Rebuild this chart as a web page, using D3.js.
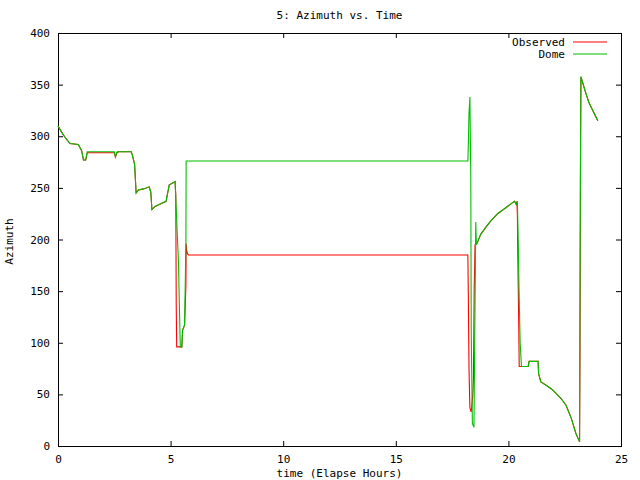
<!DOCTYPE html>
<html>
<head>
<meta charset="utf-8">
<script src="https://cdn.jsdelivr.net/npm/d3@7"></script>
<style>
  body { margin: 0; background: #fff; }
  text { font-family: "DejaVu Sans Mono", monospace; font-size: 11px; fill: #000; }
</style>
</head>
<body>
<div id="chart"></div>
<script>
// data (hours, degrees)
var obsTime = [0, 0.16, 0.31, 0.53, 0.9, 1.05, 1.13, 1.23, 1.3, 2.5, 2.55, 2.62, 2.69, 3.25, 3.3, 3.4, 3.47, 3.57, 3.8, 4.05, 4.12, 4.17, 4.31, 4.61, 4.8, 4.86, 4.94, 5.2, 5.23, 5.25, 5.27, 5.3, 5.5, 5.53, 5.62, 5.68, 5.69, 5.71, 5.75, 5.8, 18.2, 18.22, 18.25, 18.29, 18.35, 18.42, 18.45, 18.48, 18.52, 18.62, 18.77, 19.0, 19.22, 19.52, 19.9, 20.2, 20.27, 20.35, 20.38, 20.4, 20.41, 20.46, 20.48, 20.88, 20.92, 21.32, 21.34, 21.44, 21.66, 21.9, 22.12, 22.34, 22.56, 22.79, 23.0, 23.16, 23.18, 23.2, 23.22, 23.27, 23.42, 23.57, 23.79, 23.97];
var obsAz   = [310, 304, 299, 293, 292, 286, 277, 277, 284, 284, 280, 284, 285, 285, 282, 273, 245, 248, 249, 251, 246, 229, 232, 235, 237, 244, 253, 256, 243, 136, 96, 96, 96, 112, 117, 156, 196, 190, 186, 185, 185, 148, 75, 37, 33, 50, 67, 150, 195, 197, 205, 212, 218, 225, 231, 236, 237, 234, 237, 222, 198, 117, 77, 77, 82, 82, 70, 62, 59, 55.5, 51, 46, 39.5, 27, 12, 4, 91, 268, 357, 354, 343, 333, 323, 315];

var domeTime = [0, 0.16, 0.31, 0.53, 0.9, 1.05, 1.13, 1.23, 1.3, 2.5, 2.55, 2.62, 2.69, 3.25, 3.3, 3.4, 3.47, 3.57, 3.8, 4.05, 4.12, 4.17, 4.31, 4.61, 4.8, 4.86, 4.94, 5.2, 5.27, 5.35, 5.4, 5.43, 5.5, 5.53, 5.62, 5.68, 5.69, 18.2, 18.22, 18.25, 18.29, 18.33, 18.35, 18.4, 18.47, 18.55, 18.58, 18.62, 18.77, 19.0, 19.22, 19.52, 19.9, 20.2, 20.27, 20.35, 20.4, 20.44, 20.47, 20.52, 20.58, 20.88, 20.92, 21.32, 21.34, 21.44, 21.66, 21.9, 22.12, 22.34, 22.56, 22.79, 23.0, 23.16, 23.17, 23.2, 23.22, 23.27, 23.42, 23.57, 23.79, 23.97];
var domeAz   = [310, 304, 299, 293, 292, 286, 277, 277, 285, 285, 280, 285, 285, 285, 282, 273, 245, 248, 249, 251, 246, 229, 232, 235, 237, 244, 253, 256, 219, 178, 125, 96, 96, 112, 117, 196, 276, 276, 291, 322, 338, 262, 109, 22, 18, 217, 195, 197, 205, 212, 218, 225, 231, 236, 237, 234, 237, 194, 154, 101, 77, 77, 82, 82, 70, 62, 59, 55.5, 51, 46, 39.5, 27, 12, 4, 91, 268, 358, 354, 343, 333, 323, 315];

var xTicks = [0, 5, 10, 15, 20, 25];
var yTicks = [0, 50, 100, 150, 200, 250, 300, 350, 400];
var seriesNames = ["Observed", "Dome"];
var seriesColors = ["#ff0000", "#00c000"];

var margin = {top: 33, right: 19, bottom: 34, left: 58};
var width = 640 - margin.left - margin.right, height = 480 - margin.top - margin.bottom;

var svg = d3.select("#chart")
  .append("svg")
  .attr("width", 640)
  .attr("height", 480)
  .append("g")
  .attr("transform", "translate(" + margin.left + "," + margin.top + ")");

var x = d3.scaleLinear().domain([0, 25]).range([0, width]);
var y = d3.scaleLinear().domain([0, 400]).range([height, 0]);

// axes with inward ticks, mirrored on top/right
function styleAxis(g) {
  g.select(".domain").remove();
  g.selectAll("line").attr("stroke", "#000");
  g.selectAll("text").attr("font-family", null).attr("font-size", null);
}
svg.append("g").attr("transform", "translate(0," + height + ")")
  .call(d3.axisBottom(x).tickValues(xTicks).tickSize(-5).tickPadding(9).tickFormat(d3.format("d")))
  .call(styleAxis);
svg.append("g")
  .call(d3.axisTop(x).tickValues(xTicks).tickSize(-5).tickFormat(""))
  .call(styleAxis);
svg.append("g")
  .call(d3.axisLeft(y).tickValues(yTicks).tickSize(-5).tickPadding(8).tickFormat(d3.format("d")))
  .call(styleAxis);
svg.append("g").attr("transform", "translate(" + width + ",0)")
  .call(d3.axisRight(y).tickValues(yTicks).tickSize(-5).tickFormat(""))
  .call(styleAxis);

// frame
svg.append("rect")
  .attr("width", width).attr("height", height)
  .attr("fill", "none").attr("stroke", "#000").attr("shape-rendering", "crispEdges");

// lines
var line = d3.line().x(function(d) { return x(d[0]); }).y(function(d) { return y(d[1]); });
var series = [d3.zip(obsTime, obsAz), d3.zip(domeTime, domeAz)];
svg.selectAll("path.series")
  .data(series)
  .enter()
  .append("path")
  .attr("class", "series")
  .attr("d", line)
  .attr("fill", "none")
  .attr("stroke", function(d, i) { return seriesColors[i]; })
  .attr("stroke-width", 1.1);

// legend
seriesNames.forEach(function(name, i) {
  var ly = 9 + i * 12;
  svg.append("text")
    .attr("x", 507).attr("y", ly).attr("dy", "0.35em")
    .style("text-anchor", "end")
    .text(name);
  svg.append("line")
    .attr("x1", 515).attr("x2", 549).attr("y1", ly).attr("y2", ly)
    .attr("stroke", seriesColors[i]).attr("stroke-width", 1.1);
});

// title and axis labels
svg.append("text")
  .attr("x", width / 2).attr("y", -14)
  .style("text-anchor", "middle")
  .text("5: Azimuth vs. Time");
svg.append("text")
  .attr("x", width / 2).attr("y", height + 31)
  .style("text-anchor", "middle")
  .text("time (Elapse Hours)");
svg.append("text")
  .attr("transform", "rotate(-90)")
  .attr("x", -height / 2 - 2).attr("y", -45)
  .style("text-anchor", "middle")
  .text("Azimuth");
</script>
</body>
</html>
